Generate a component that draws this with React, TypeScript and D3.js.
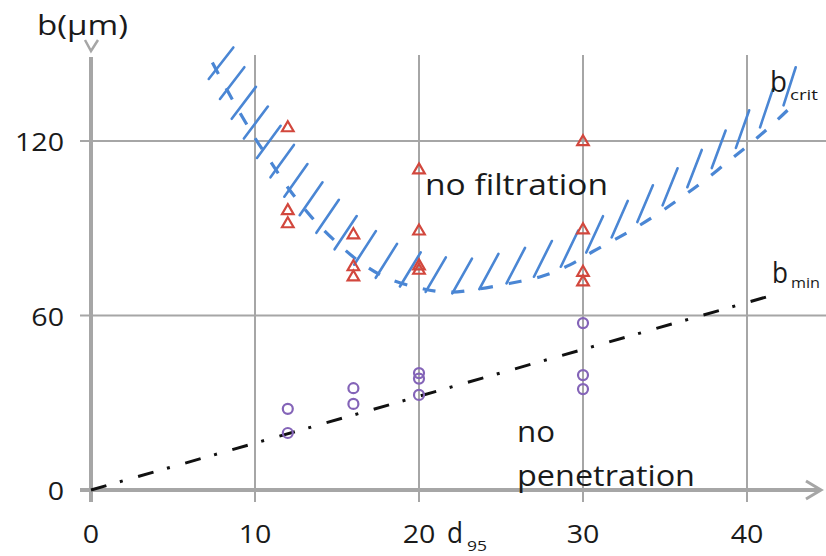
import React, { useEffect, useRef } from "react";
import * as d3 from "d3";

const W = 826;
const H = 556;

const xTicks = [0, 10, 20, 30, 40];
const yTicks = [0, 60, 120];
const xGrid = [10, 20, 30, 40];
const yGrid = [60, 120];

// "no filtration" experiments (red triangles)
const filtD = [12, 12, 12, 16, 16, 16, 20, 20, 20, 20, 30, 30, 30, 30];
const filtB = [124.5, 96, 91.5, 87.7, 76.7, 73.2, 110, 89, 77, 75.5, 119.7, 89.4, 74.8, 71.5];

// "no penetration" experiments (purple circles)
const penD = [12, 12, 16, 16, 20, 20, 20, 30, 30, 30];
const penB = [27.9, 19.6, 35, 29.6, 40.2, 38.3, 32.7, 57.4, 39.5, 34.7];

// b_crit boundary curve
const critD = [7.4, 8.3, 9.0, 10.0, 11.0, 12.0, 13.5, 15.0, 16.5, 18.0, 20.0, 21.7, 23.5, 25.5, 27.5, 29.2, 30.6, 32.7, 34.3, 35.9, 37.3, 39.0, 40.4, 41.8, 43.1];
const critB = [147, 137.5, 130.5, 121, 112.5, 104, 93.5, 85, 78, 73, 69.5, 68, 69, 71, 73.5, 77.4, 82, 88.5, 94, 100.2, 106, 113.6, 120, 127, 134];

// b_min line
const minD = [0, 41.7];
const minB = [0, 67.2];

const GRID = "#a6a6a6";
const BLUE = "#4a86d4";
const RED = "#d2473d";
const PURPLE = "#8464b8";
const TXT = "#1a1a1a";
const FONT = "'Open Sans', sans-serif";

export default function App() {
  const ref = useRef<SVGSVGElement>(null);

  useEffect(() => {
    const svg = d3.select(ref.current);
    svg.selectAll("*").remove();

    const x = d3.scaleLinear().domain([0, 40]).range([91, 747]);
    const y = d3.scaleLinear().domain([0, 120]).range([490, 141]);

    svg.append("rect").attr("width", W).attr("height", H).attr("fill", "#fff");

    // grid
    const g = svg.append("g");
    yGrid.forEach((v) => {
      g.append("line").attr("x1", 80).attr("x2", W).attr("y1", y(v)).attr("y2", y(v))
        .attr("stroke", GRID).attr("stroke-width", 2);
    });
    xGrid.forEach((v) => {
      g.append("line").attr("x1", x(v)).attr("x2", x(v)).attr("y1", 55).attr("y2", 502)
        .attr("stroke", GRID).attr("stroke-width", 2);
    });

    // axes
    g.append("line").attr("x1", x(0)).attr("x2", x(0)).attr("y1", 57).attr("y2", 502)
      .attr("stroke", GRID).attr("stroke-width", 4);
    g.append("line").attr("x1", 80).attr("x2", 820).attr("y1", y(0)).attr("y2", y(0))
      .attr("stroke", GRID).attr("stroke-width", 4);
    g.append("polyline").attr("points", "806,481 821,490 806,499")
      .attr("fill", "none").attr("stroke", GRID).attr("stroke-width", 3);
    g.append("polyline").attr("points", "85,40 91,51 98,40")
      .attr("fill", "none").attr("stroke", GRID).attr("stroke-width", 2.5);

    // b_min line
    const lineMin = d3.line<number>().x((_, i) => x(minD[i])).y((_, i) => y(minB[i]));
    svg.append("path").attr("d", lineMin(minD) as string)
      .attr("fill", "none").attr("stroke", "#111").attr("stroke-width", 3)
      .attr("stroke-dasharray", "16 14 3 16");

    // b_crit curve
    const lineCrit = d3.line<number>()
      .x((_, i) => x(critD[i])).y((_, i) => y(critB[i]))
      .curve(d3.curveCatmullRom.alpha(0.5));
    const critPath = svg.append("path").attr("d", lineCrit(critD) as string)
      .attr("fill", "none").attr("stroke", BLUE).attr("stroke-width", 3.2)
      .attr("stroke-dasharray", "13 16");

    // hatch
    const node = critPath.node() as SVGPathElement;
    const L = node.getTotalLength();
    const hatch = svg.append("g").attr("stroke", BLUE).attr("stroke-width", 2.6).attr("stroke-linecap", "round");
    let s = 8;
    while (s < L - 4) {
      const p = node.getPointAtLength(s);
      const t = Math.max(0, Math.min(1, (p.x - 215) / 585));
      const ang = ((52 + t * 21) * Math.PI) / 180;
      const dx = Math.cos(ang), dy = -Math.sin(ang);
      const s0 = -12 + t * 26;
      const len = 40;
      hatch.append("line")
        .attr("x1", p.x + s0 * dx).attr("y1", p.y + s0 * dy)
        .attr("x2", p.x + (s0 + len) * dx).attr("y2", p.y + (s0 + len) * dy);
      s += 23 + t * 9;
    }

    // markers
    const tri = d3.symbol().type(d3.symbolTriangle).size(58);
    svg.append("g").selectAll("path").data(filtD).join("path")
      .attr("d", tri() as string)
      .attr("transform", (d, i) => `translate(${x(d)},${y(filtB[i])})`)
      .attr("fill", "none").attr("stroke", RED).attr("stroke-width", 2.2);
    svg.append("g").selectAll("circle").data(penD).join("circle")
      .attr("cx", (d) => x(d)).attr("cy", (_, i) => y(penB[i])).attr("r", 5)
      .attr("fill", "none").attr("stroke", PURPLE).attr("stroke-width", 2.2);

    // text helper
    const T = (str: string, px: number, py: number, size: number, opts: any = {}) => {
      const t = svg.append("text").text(str)
        .attr("font-family", FONT).attr("font-size", size).attr("fill", TXT)
        .attr("font-weight", opts.weight || 500)
        .attr("text-anchor", opts.anchor || "start");
      if (opts.len) {
        t.attr("x", px).attr("y", py).attr("textLength", opts.len).attr("lengthAdjust", "spacingAndGlyphs");
      } else {
        t.attr("transform", `translate(${px},${py}) scale(${opts.sx || 1.1},1)`);
      }
      return t;
    };

    yTicks.forEach((v) => T(String(v), 64, y(v) + 10, 26, { anchor: "end" }));
    xTicks.forEach((v) => T(String(v), x(v), 543, 26, { anchor: "middle" }));

    T("b(μm)", 37, 35, 28, { len: 91 });
    T("d", 447, 543, 30, { len: 16 });
    T("95", 467, 551, 14, { len: 20 });
    T("no filtration", 425, 195, 30, { len: 183 });
    T("no", 517, 442, 30, { len: 38 });
    T("penetration", 517, 486, 30, { len: 178 });
    T("b", 770, 92, 30, { len: 17 });
    T("crit", 790, 100, 15, { len: 28 });
    T("b", 772, 283, 30, { len: 16 });
    T("min", 791, 288, 15, { len: 29 });
  }, []);

  return (
    <svg
      ref={ref}
      width={W}
      height={H}
      style={{ position: "absolute", left: 0, top: 0, display: "block" }}
    />
  );
}
